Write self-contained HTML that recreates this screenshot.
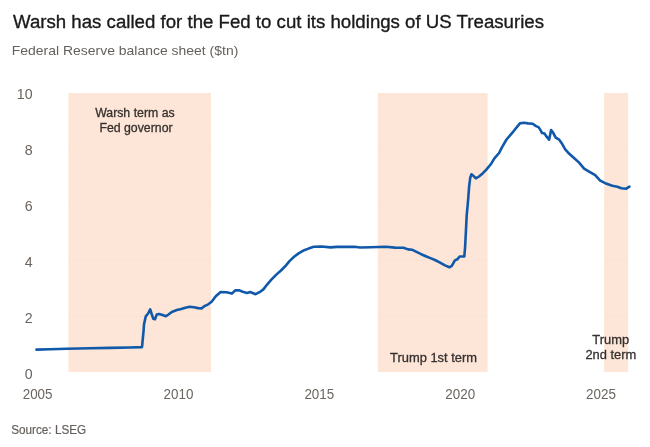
<!DOCTYPE html>
<html><head><meta charset="utf-8"><style>
html,body{margin:0;padding:0;background:#fff;}
body{width:650px;height:447px;overflow:hidden;}
svg{display:block;font-family:"Liberation Sans", Arial, sans-serif;will-change:transform;}
</style></head><body>
<svg width="650" height="447" viewBox="0 0 650 447">
<rect x="0" y="0" width="650" height="447" fill="#fff"/>
<text x="13" y="27.5" font-size="19.2" fill="#1a1a1a" stroke="#1a1a1a" stroke-width="0.35" textLength="531" lengthAdjust="spacingAndGlyphs">Warsh has called for the Fed to cut its holdings of US Treasuries</text>
<text x="11.8" y="55" font-size="13.4" fill="#66605c" textLength="226.5" lengthAdjust="spacingAndGlyphs">Federal Reserve balance sheet ($tn)</text>
<g fill="#fde5d7">
<rect x="68.4" y="93" width="142.6" height="279"/>
<rect x="377.8" y="93" width="109.8" height="279"/>
<rect x="604.2" y="93" width="23.9" height="279"/>
</g>
<g stroke="#f6e2cc" stroke-width="1" opacity="0.45">
<path d="M68 148.9H211M68 204.8H211M68 260.7H211M68 316.6H211M377.8 148.9H487.6M377.8 204.8H487.6M377.8 260.7H487.6M377.8 316.6H487.6M604.2 148.9H628.1M604.2 204.8H628.1M604.2 260.7H628.1M604.2 316.6H628.1"/>
</g>
<g font-size="14.2" fill="#6b6560"><text x="32.6" y="378.6" text-anchor="end">0</text><text x="32.6" y="322.7" text-anchor="end">2</text><text x="32.6" y="266.8" text-anchor="end">4</text><text x="32.6" y="210.9" text-anchor="end">6</text><text x="32.6" y="155.0" text-anchor="end">8</text><text x="32.6" y="99.1" text-anchor="end">10</text><text x="37.6" y="399.4" text-anchor="middle" textLength="29.8" lengthAdjust="spacingAndGlyphs">2005</text><text x="178.5" y="399.4" text-anchor="middle" textLength="29.8" lengthAdjust="spacingAndGlyphs">2010</text><text x="319.3" y="399.4" text-anchor="middle" textLength="29.8" lengthAdjust="spacingAndGlyphs">2015</text><text x="460.2" y="399.4" text-anchor="middle" textLength="29.8" lengthAdjust="spacingAndGlyphs">2020</text><text x="601.0" y="399.4" text-anchor="middle" textLength="29.8" lengthAdjust="spacingAndGlyphs">2025</text></g>
<g font-size="12.3" fill="#35312e" stroke="#35312e" stroke-width="0.3" text-anchor="middle">
<text x="134.9" y="116.8">Warsh term as</text>
<text x="136" y="131.6">Fed governor</text>
<text x="433.5" y="361.6" font-size="12.9">Trump 1st term</text>
<text x="610.7" y="343.9" font-size="12.9">Trump</text>
<text x="610.9" y="358.7" font-size="12.9">2nd term</text>
</g>
<path d="M36.5 349.6 L50 349.3 L66.9 348.7 L90 348.3 L110 347.9 L130 347.5 L142 347.1 L143.6 330.3 L144 324.4 L145.8 316.3 L148.1 313.5 L150.2 309.4 L151.5 313.5 L153.3 318.7 L155 319.2 L156.7 314.6 L159 314 L163.4 315.3 L165.9 316.2 L168.5 314.5 L171.8 311.9 L176.9 310.1 L181.2 309 L185.4 307.7 L189.6 306.8 L193.8 307.3 L198.1 308.1 L201.5 308.4 L204 306.4 L208.2 304.3 L211.6 301.8 L214.1 298.4 L215.8 296.3 L220.6 292 L226.5 292.2 L231.9 293.6 L235.2 290.4 L239.5 290.4 L242.7 291.8 L247 292.9 L250.2 292 L255.6 294.2 L259.5 292.2 L263.4 289.4 L267.3 284.3 L271.8 279.2 L276.3 274.6 L280.7 270.7 L285.2 266.3 L289.7 260.9 L294.1 256.8 L298.6 253.4 L304.2 250.2 L308.5 248.6 L313.8 246.8 L321.5 246.5 L330.5 247.4 L336.9 246.9 L346.2 246.9 L354.5 246.7 L360 247.5 L370.4 247.3 L385.8 246.8 L395 247.6 L403.5 247.7 L408.1 249.4 L411.9 249.7 L416.5 251.9 L421.2 254.2 L425.8 256.2 L430.4 258.1 L435 260 L439.6 262.3 L445 265.4 L449.4 267.3 L451.8 265.9 L454.9 260.4 L457.3 259.3 L459.6 256.5 L464.3 256.5 L465.1 247.1 L465.9 231.4 L466.7 215.7 L468.1 200 L469.1 186.8 L470.2 177.9 L471.4 174.3 L473.6 176.1 L475.9 178.3 L479 176.5 L482.6 173.4 L486.1 169.8 L488.8 166.7 L491.5 163.2 L494.4 158.3 L499.1 153 L501.8 147.6 L506.5 139.5 L513.9 130.8 L519.9 123.4 L523.9 122.8 L528 123.4 L532.7 123.7 L536 126.1 L538.5 127.1 L540.5 130.1 L542.1 133.1 L544.6 133.6 L546.6 136.7 L549.1 139.7 L551.1 130.1 L553.1 132.6 L555.7 137.7 L559.2 139.7 L561.7 143.2 L565.2 149.3 L569.3 153.8 L574.3 158.3 L579.1 162.6 L584.1 168.6 L589.1 171.6 L595.2 175.2 L600.2 180.7 L605.2 183.2 L612.3 185.7 L617.3 186.7 L621.3 188.2 L626.3 188.7 L629.4 186.7" fill="none" stroke="#1059aa" stroke-width="2.6" stroke-linejoin="round" stroke-linecap="round"/>
<text x="11.2" y="433.8" font-size="13.2" fill="#66605c" stroke="#66605c" stroke-width="0.2" textLength="75" lengthAdjust="spacingAndGlyphs">Source: LSEG</text>
</svg>
</body></html>
